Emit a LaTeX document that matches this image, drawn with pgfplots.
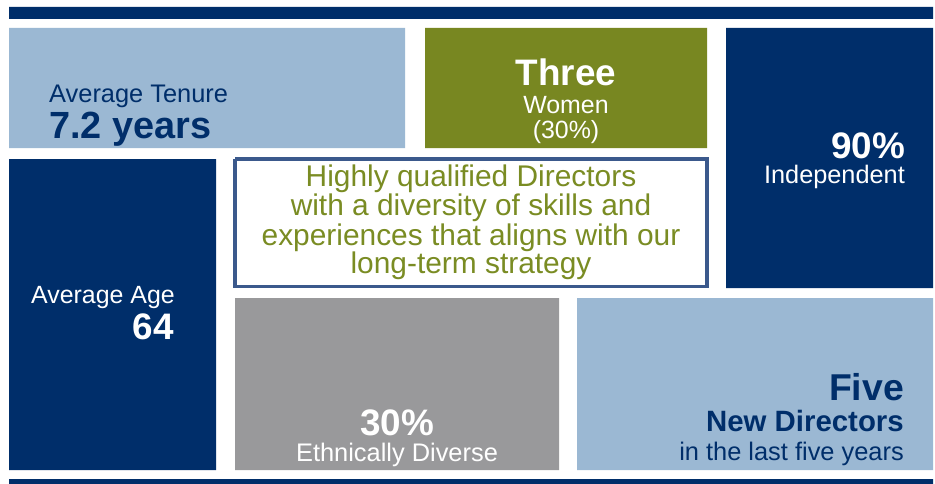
\documentclass[border=0pt]{standalone}
\usepackage{pgfplots}
\pgfplotsset{compat=1.18}
\usepackage{fontspec}
\setmainfont{Liberation Sans}
\definecolor{navy}{RGB}{0,46,106}
\definecolor{lblue}{RGB}{155,184,211}
\definecolor{olive}{RGB}{120,135,33}
\definecolor{oltext}{RGB}{122,140,35}
\definecolor{grayb}{RGB}{153,153,155}
\definecolor{border}{RGB}{59,89,140}
\newcommand{\fs}[1]{\fontsize{#1}{#1}\selectfont}
\begin{document}
\begin{tikzpicture}
\begin{axis}[
  width=935bp, height=484bp, scale only axis,
  xmin=0, xmax=935, ymin=0, ymax=484, y dir=reverse,
  hide axis, clip=false,
]
% background
\addplot[fill=white, draw=none] coordinates {(0,0) (935,0) (935,484) (0,484) (0,0)};
% top and bottom bars
\addplot[fill=navy, draw=none] coordinates {(9,7) (933,7) (933,19) (9,19) (9,7)};
\addplot[fill=navy, draw=none] coordinates {(9,479) (933,479) (933,484) (9,484) (9,479)};
% tiles
\addplot[fill=lblue, draw=none] coordinates {(9,28) (405,28) (405,148) (9,148) (9,28)};
\addplot[fill=olive, draw=none] coordinates {(425,28) (707,28) (707,148) (425,148) (425,28)};
\addplot[fill=navy, draw=none] coordinates {(726,28) (933,28) (933,288) (726,288) (726,28)};
\addplot[fill=navy, draw=none] coordinates {(9,159) (216,159) (216,470) (9,470) (9,159)};
\addplot[fill=white, draw=border, line width=3.7bp] coordinates {(235,159) (707,159) (707,286.5) (235,286.5) (235,159)};
\addplot[fill=grayb, draw=none] coordinates {(235,298) (559,298) (559,470) (235,470) (235,298)};
\addplot[fill=lblue, draw=none] coordinates {(577,298) (933,298) (933,470) (577,470) (577,298)};
% texts
\node[anchor=base west, text=navy, inner sep=0pt] at (axis cs:49,102) {\fs{25.5}Average Tenure};
\node[anchor=base west, text=navy, inner sep=0pt] at (axis cs:49,138) {\fs{38}\bfseries 7.2 years};
\node[anchor=base, text=white, inner sep=0pt] at (axis cs:566,86) {\fs{37}\bfseries Three};
\node[anchor=base, text=white, inner sep=0pt] at (axis cs:566,113) {\fs{25}Women};
\node[anchor=base, text=white, inner sep=0pt] at (axis cs:566,138) {\fs{25}(30\%)};
\node[anchor=base east, text=white, inner sep=0pt] at (axis cs:905,158) {\fs{37}\bfseries 90\%};
\node[anchor=base east, text=white, inner sep=0pt] at (axis cs:905,183) {\fs{25.4}Independent};
\node[anchor=base, text=oltext, inner sep=0pt] at (axis cs:471,186) {\fs{30}Highly qualified Directors};
\node[anchor=base, text=oltext, inner sep=0pt] at (axis cs:471,215) {\fs{30}with a diversity of skills and};
\node[anchor=base, text=oltext, inner sep=0pt] at (axis cs:471,245) {\fs{30}experiences that aligns with our};
\node[anchor=base, text=oltext, inner sep=0pt] at (axis cs:471,273) {\fs{30}long-term strategy};
\node[anchor=base west, text=white, inner sep=0pt] at (axis cs:31,303) {\fs{25}Average Age};
\node[anchor=base east, text=white, inner sep=0pt] at (axis cs:174,339) {\fs{37}\bfseries 64};
\node[anchor=base, text=white, inner sep=0pt] at (axis cs:397,435) {\fs{37}\bfseries 30\%};
\node[anchor=base, text=white, inner sep=0pt] at (axis cs:397,461) {\fs{25.5}Ethnically Diverse};
\node[anchor=base east, text=navy, inner sep=0pt] at (axis cs:904,400) {\fs{37.5}\bfseries Five};
\node[anchor=base east, text=navy, inner sep=0pt] at (axis cs:904,431) {\fs{29.5}\bfseries New Directors};
\node[anchor=base east, text=navy, inner sep=0pt] at (axis cs:904,460) {\fs{25.5}in the last five years};
\end{axis}
\end{tikzpicture}
\end{document}
